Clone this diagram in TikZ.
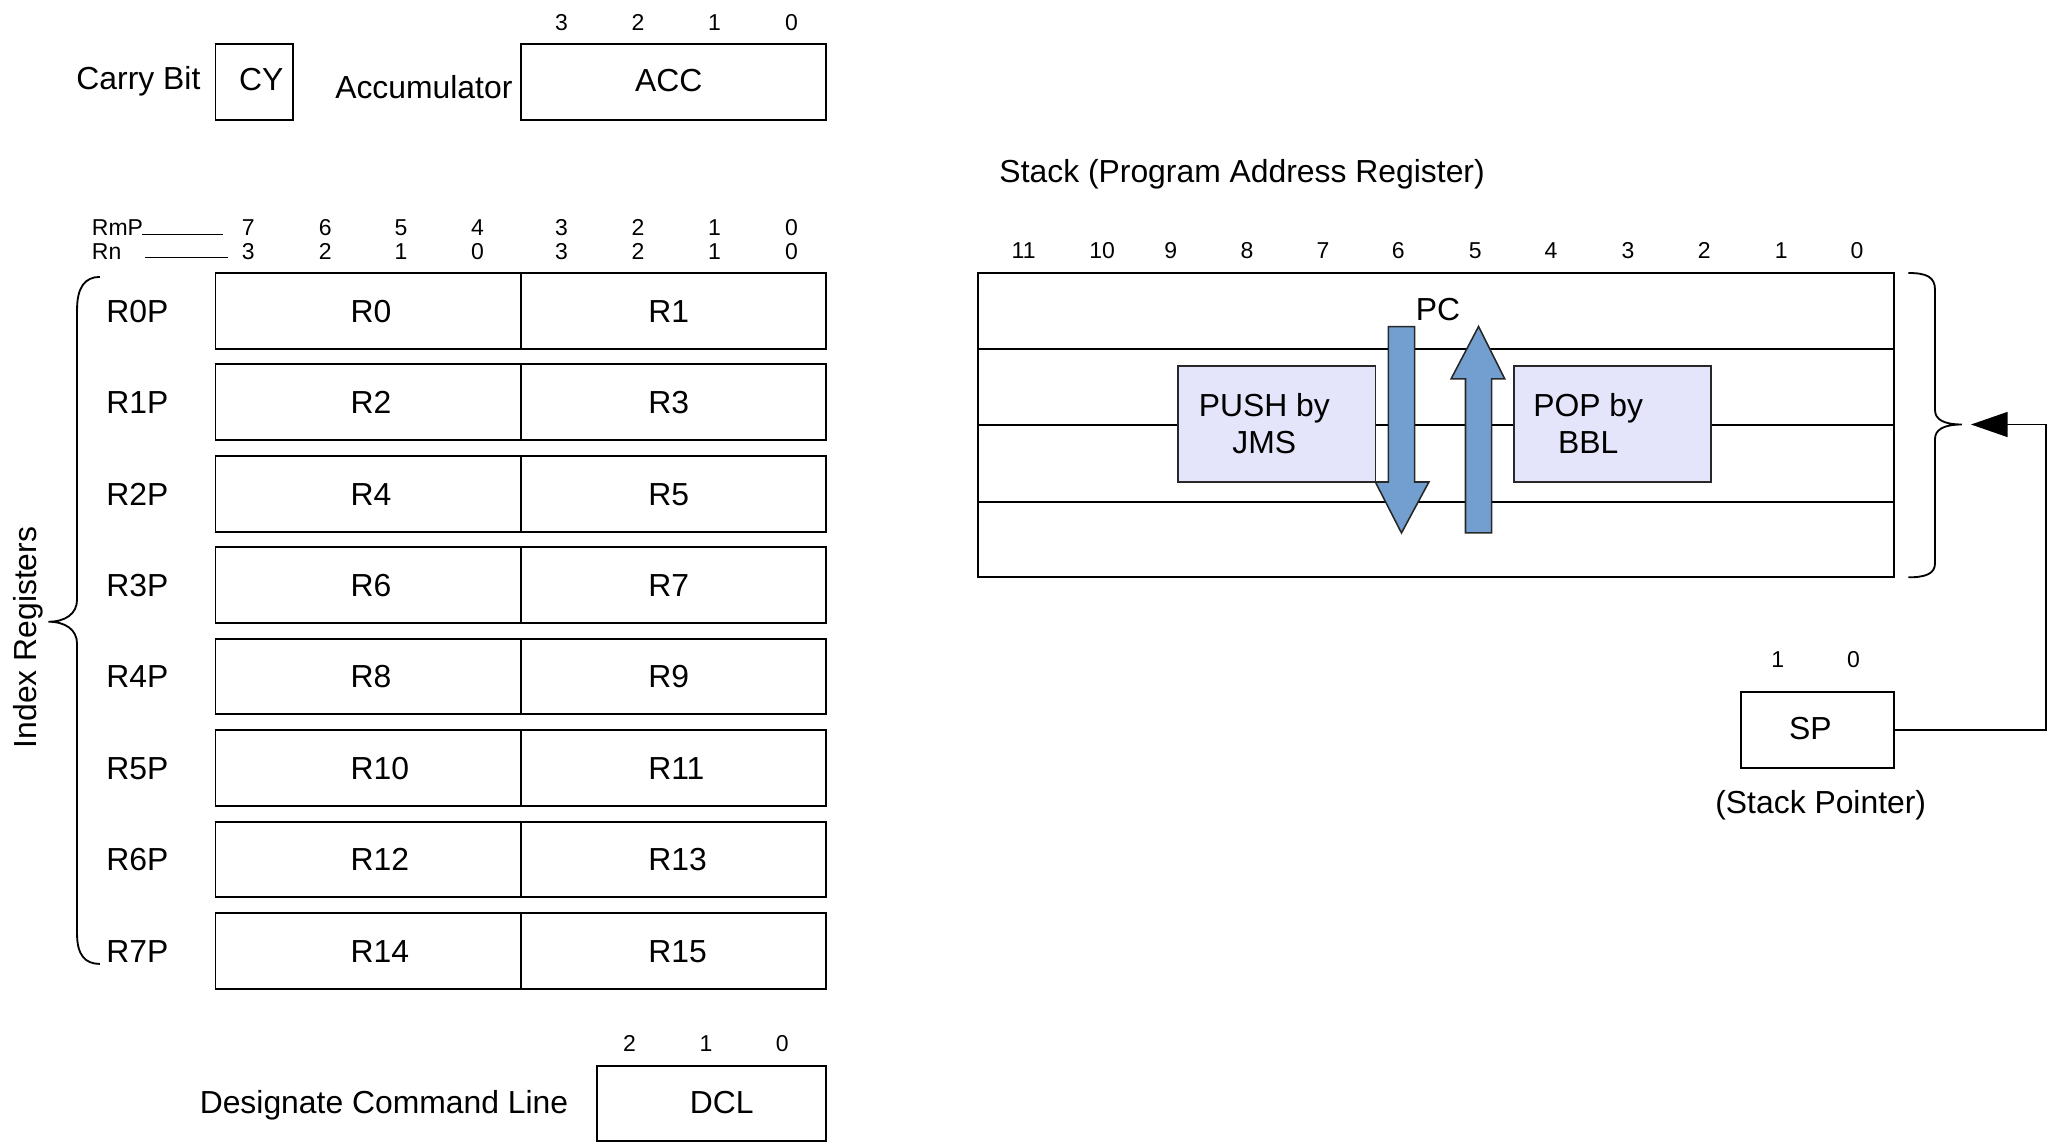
\documentclass[tikz,border=0pt]{standalone}
\usepackage{fontspec}
\setmainfont{Liberation Sans}
\usetikzlibrary{arrows.meta}
\definecolor{arrowblue}{RGB}{114,159,207}
\definecolor{lav}{RGB}{228,228,250}
\definecolor{edge}{RGB}{40,40,40}
\tikzset{
  lbl/.style={inner sep=0pt, font=\fontsize{12.2}{14}\selectfont, text height=8.7pt, text depth=0pt},
  bitno/.style={inner sep=0pt, font=\fontsize{8.8}{10}\selectfont, text height=6.3pt, text depth=0pt},
  regbox/.style={draw=black, line width=0.75pt, inner sep=0pt},
  lavbox/.style={draw=edge, fill=lav, line width=0.6pt, inner sep=0pt},
  blockarrow/.style={draw=edge, fill=arrowblue, line width=0.6pt},
  regline/.style={draw=black, line width=0.75pt},
  thinline/.style={draw=black, line width=0.55pt},
  bracepath/.style={draw=black, line width=0.7pt},
  conn/.style={draw=black, line width=0.7pt, -{Triangle[length=14pt,width=9.5pt]}},
  twoline/.style={inner sep=0pt, align=center, font=\fontsize{12.2}{14}\selectfont, anchor=base}
}
\begin{document}
\begin{tikzpicture}[x=0.5pt,y=-0.5pt]
\useasboundingbox (0,0) rectangle (1568,875);

% ---------- Carry bit and accumulator ----------
\node[lbl] (carrytxt) at (106,60) {Carry Bit};
\node[regbox, minimum width=29.5pt, minimum height=29pt] (cy) at (194.5,63) {};
\node[lbl] (cytxt) at (200,60.6) {CY};
\node[lbl] (acctxt0) at (324.5,66.4) {Accumulator};
\node[regbox, minimum width=116.75pt, minimum height=29pt] (acc) at (515.75,63) {};
\node[lbl] (acctxt) at (512,61) {ACC};
\foreach \x/\t [count=\k] in {430/3,488.5/2,547/1,606/0}
  \node[bitno] (accbit\k) at (\x,17) {\t};

% ---------- Index register bit header ----------
\node[bitno, anchor=west] (rmp) at (70,174) {RmP};
\node[bitno, anchor=west] (rn) at (70,192) {Rn};
\draw[thinline] (109,179.4) -- (171,179.4);
\draw[thinline] (111,197) -- (174.5,197);
\foreach \x/\a/\b [count=\k] in {190/7/3,249/6/2,307/5/1,365.5/4/0,430/3/3,488.5/2/2,547/1/1,606/0/0}{
  \node[bitno] (rmpbit\k) at (\x,174) {\a};
  \node[bitno] (rnbit\k) at (\x,192) {\b};
}

% ---------- Index registers ----------
\foreach \i/\a/\b in {0/R0/R1,1/R2/R3,2/R4/R5,3/R6/R7,4/R8/R9,5/R10/R11,6/R12/R13,7/R14/R15}{
  \pgfmathsetmacro\cy{238+70*\i}
  \node[regbox, minimum width=117pt, minimum height=29pt] (lc\i) at (282,\cy) {};
  \node[regbox, minimum width=116.75pt, minimum height=29pt] (rc\i) at (515.75,\cy) {};
  \node[lbl, anchor=west] (lt\i) at (268,\cy) {\a};
  \node[lbl, anchor=west] (rt\i) at (496,\cy) {\b};
  \node[lbl, anchor=west] (pl\i) at (81,\cy) {R\i P};
}
\draw[bracepath] (76.5,212) .. controls (65,212) and (59,220) .. (59,237)
  -- (59,459) .. controls (59,470) and (50,476) .. (37,476)
  .. controls (50,476) and (59,482) .. (59,493)
  -- (59,715) .. controls (59,731) and (65,738) .. (76.5,738);
\node[lbl, rotate=90] (idxtxt) at (19,488) {Index Registers};

% ---------- DCL ----------
\node[lbl] (dcltxt0) at (294,843.5) {Designate Command Line};
\node[regbox, minimum width=87.75pt, minimum height=28.8pt] (dcl) at (544.75,844.8) {};
\node[lbl] (dcltxt) at (552.6,844) {DCL};
\foreach \x/\t [count=\k] in {482/2,540.6/1,599/0}
  \node[bitno] (dclbit\k) at (\x,799) {\t};

% ---------- Stack ----------
\node[lbl] (stacktitle) at (951,131) {Stack (Program Address Register)};
\foreach \x/\t [count=\k] in {783.7/11,843.8/10,896.3/9,954.8/8,1013/7,1070.5/6,1129.4/5,1187.5/4,1246.5/3,1304.8/2,1363.7/1,1421.8/0}
  \node[bitno] (stbit\k) at (\x,191.5) {\t};
\node[regbox, minimum width=350.5pt, minimum height=116.5pt] (stack) at (1099.5,325.5) {};
\draw[regline] (749,267) -- (1450,267);
\draw[regline] (749,325.5) -- (1450,325.5);
\draw[regline] (749,384) -- (1450,384);
\node[lavbox, minimum width=75.5pt, minimum height=44.5pt] (push) at (977.5,324.5) {};
\node[twoline] (pushtxt) at (968,347) {PUSH by\\JMS};
\node[lavbox, minimum width=75.5pt, minimum height=44.5pt] (pop) at (1234.5,324.5) {};
\node[twoline] (poptxt) at (1216,347) {POP by\\BBL};
\node[lbl] (pctxt) at (1101,237) {PC};
\draw[blockarrow] (1063,250) -- (1083,250) -- (1083,369) -- (1094,369) -- (1073,408) -- (1053,369) -- (1063,369) -- cycle;
\draw[blockarrow] (1122,408) -- (1142,408) -- (1142,290) -- (1152,290) -- (1132,250) -- (1111,290) -- (1122,290) -- cycle;
\draw[bracepath] (1461,209) .. controls (1475,209) and (1481.5,212) .. (1481.5,222)
  -- (1481.5,314) .. controls (1481.5,321) and (1488,325) .. (1502,325)
  .. controls (1488,325) and (1481.5,329) .. (1481.5,336)
  -- (1481.5,431) .. controls (1481.5,439) and (1475,442) .. (1461,442);

% ---------- Stack pointer ----------
\node[regbox, minimum width=58.5pt, minimum height=29pt] (sp) at (1391.5,559) {};
\node[lbl] (sptxt) at (1386,557.7) {SP};
\node[bitno] (spbit1) at (1361,505) {1};
\node[bitno] (spbit0) at (1419,505) {0};
\node[lbl] (sptitle) at (1394,614) {(Stack Pointer)};
\coordinate (corner) at (1566.5,559);
\coordinate (arrtip) at (1509,325);
\draw[conn] (sp.east) -- (corner) |- (arrtip);
\end{tikzpicture}
\end{document}
